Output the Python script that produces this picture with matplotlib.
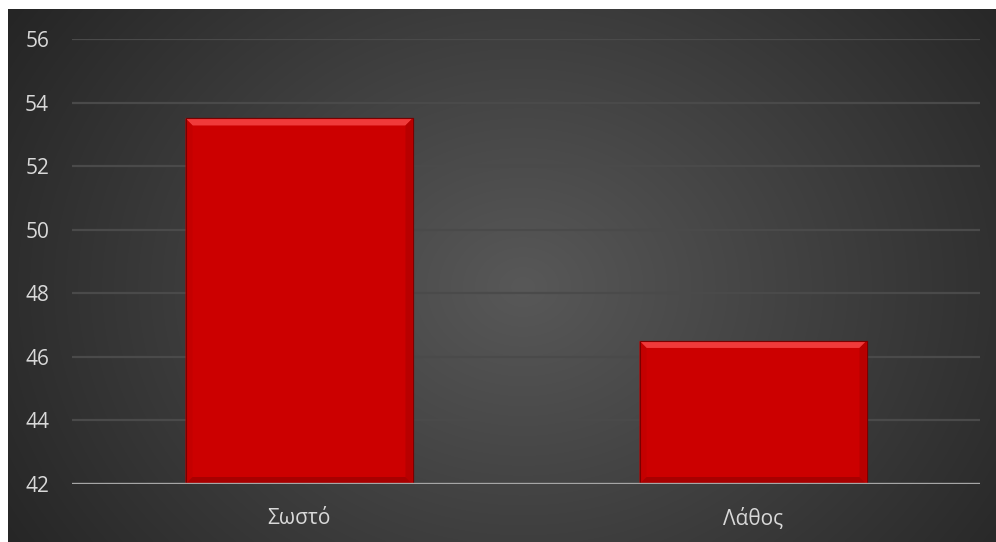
import numpy as np
import matplotlib
matplotlib.use("Agg")
import matplotlib.pyplot as plt
from matplotlib.patches import Polygon, Rectangle

plt.rcParams['font.family'] = ['Open Sans', 'DejaVu Sans']

categories = ["Σωστό", "Λάθος"]
values = [53.5, 46.5]
y_ticks = [42, 44, 46, 48, 50, 52, 54, 56]

W, H, DPI = 996, 542, 100
fig = plt.figure(figsize=(W / DPI, H / DPI), dpi=DPI)
fig.patch.set_facecolor("white")

# radial gradient panel behind the chart
bg = fig.add_axes([8 / W, 0, 1 - 8 / W, 1 - 9 / H])
bg.set_axis_off()
ny, nx = 300, 560
yy, xx = np.mgrid[0:ny, 0:nx]
cx, cy = nx * 0.52, ny * 0.52
r = np.sqrt(((xx - cx) / (nx * 0.62)) ** 2 + ((yy - cy) / (ny * 0.95)) ** 2)
r = np.clip(r, 0, 1)
c_in, c_out = np.array([0x58, 0x58, 0x58]) / 255, np.array([0x25, 0x25, 0x25]) / 255
img = c_in[None, None, :] * (1 - r[..., None]) + c_out[None, None, :] * r[..., None]
bg.imshow(img, aspect="auto", interpolation="bicubic", extent=[0, 1, 0, 1])
bg.set_xlim(0, 1)
bg.set_ylim(0, 1)

ax = fig.add_axes([72 / W, 1 - 484 / H, (980 - 72) / W, (484 - 39) / H])
ax.set_facecolor("none")
ax.set_ylim(42, 56)
ax.set_xlim(-0.5, len(categories) - 0.5)
ax.set_yticks(y_ticks)
ax.set_xticks(range(len(categories)))
ax.set_xticklabels(categories)
ax.tick_params(axis="both", length=0, labelsize=15, labelcolor="#d9d9d9")
ax.tick_params(axis="y", pad=16.5)
ax.tick_params(axis="x", pad=17)
for s in ax.spines.values():
    s.set_visible(False)
ax.grid(axis="y", color="#4a4a4a", linewidth=1.6)
ax.set_axisbelow(True)

bar_w = 0.5
bars = ax.bar(range(len(categories)), values, width=bar_w, bottom=0,
              color="#cc0000", edgecolor="#8a0000", linewidth=0.8, zorder=3)

fig.canvas.draw()
to_disp = ax.transData
to_data = ax.transData.inverted()
bev = 7  # bevel size in pixels
for b in bars:
    x0, x1 = b.get_x(), b.get_x() + b.get_width()
    y0, y1 = 42, b.get_height()
    (px0, py0), (px1, py1) = to_disp.transform([(x0, y0), (x1, y1)])
    inner = to_data.transform([(px0 + bev, py0 + bev), (px1 - bev, py1 - bev)])
    (ix0, iy0), (ix1, iy1) = inner
    faces = [
        ([(x0, y1), (x1, y1), (ix1, iy1), (ix0, iy1)], "#f03a3a"),
        ([(x0, y0), (x0, y1), (ix0, iy1), (ix0, iy0)], "#c40000"),
        ([(x1, y0), (x1, y1), (ix1, iy1), (ix1, iy0)], "#b80000"),
        ([(x0, y0), (x1, y0), (ix1, iy0), (ix0, iy0)], "#a80000"),
    ]
    for pts, col in faces:
        ax.add_patch(Polygon(pts, closed=True, facecolor=col, edgecolor="none", zorder=4))
    ax.add_patch(Rectangle((x0, y0), x1 - x0, y1 - y0, facecolor="none",
                           edgecolor="#7a0000", linewidth=0.8, zorder=5))

ax.axhline(42, color="#a6a6a6", linewidth=2.4, zorder=6)

fig.savefig("out.png", dpi=DPI, facecolor=fig.get_facecolor())
